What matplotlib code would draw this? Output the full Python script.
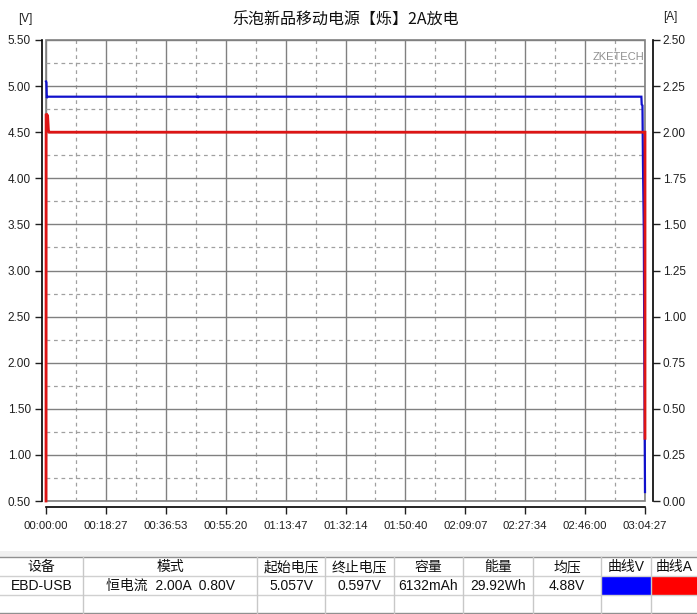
import numpy as np
import matplotlib
matplotlib.use('Agg')
import matplotlib.pyplot as plt
from matplotlib.patches import Rectangle

plt.rcParams['font.family'] = ['Liberation Sans', 'Noto Sans CJK SC', 'DejaVu Sans']

# ---- data (seconds, volts, amps) ----
t_volt = [0, 8, 15, 25, 2800, 2805, 2812, 11000, 11006, 11020, 11030, 11045, 11055, 11062, 11067]
volt = [5.05, 5.04, 4.87, 4.885, 4.885, 4.872, 4.885, 4.885, 4.80, 4.79, 4.14, 3.43, 2.00, 1.17, 0.597]

t_curr = [0, 2, 30, 45, 60, 11060, 11067, 11067]
curr = [0.0, 2.10, 2.09, 2.01, 2.00, 2.00, 2.00, 0.34]

t_end = 11067
x_labels = ['00:00:00', '00:18:27', '00:36:53', '00:55:20', '01:13:47', '01:32:14',
            '01:50:40', '02:09:07', '02:27:34', '02:46:00', '03:04:27']
v_ticks = [5.50, 5.00, 4.50, 4.00, 3.50, 3.00, 2.50, 2.00, 1.50, 1.00, 0.50]
a_ticks = [2.50, 2.25, 2.00, 1.75, 1.50, 1.25, 1.00, 0.75, 0.50, 0.25, 0.00]

title = '乐泡新品移动电源【烁】2A放电'

table_header = ['设备', '模式', '起始电压', '终止电压', '容量', '能量', '均压', '曲线V', '曲线A']
table_row = ['EBD-USB', '恒电流  2.00A  0.80V', '5.057V', '0.597V', '6132mAh', '29.92Wh', '4.88V', '', '']

W, H = 697, 614
fig = plt.figure(figsize=(W / 100, H / 100), dpi=100)

L, R, T, B = 46, 645, 40, 501
ax = fig.add_axes([L / W, 1 - B / H, (R - L) / W, (B - T) / H])
ax2 = ax.twinx()

grid_major = '#808080'
grid_minor = '#a0a0a0'

x_ticks = np.linspace(0, t_end, len(x_labels))
ax.set_xlim(0, t_end)
ax.set_ylim(0.5, 5.5)
ax2.set_ylim(0.0, 2.5)

ax.set_xticks(x_ticks)
ax.set_xticklabels(x_labels)
ax.set_xticks((x_ticks[:-1] + x_ticks[1:]) / 2, minor=True)
ax.set_yticks(v_ticks)
ax.set_yticklabels([f'{v:.2f}' for v in v_ticks])
ax.set_yticks(np.arange(0.75, 5.5, 0.5), minor=True)
ax2.set_yticks(a_ticks)
ax2.set_yticklabels([f'{a:.2f}' for a in a_ticks])

ax.grid(which='major', color=grid_major, ls='-', lw=1)
ax.grid(which='minor', color=grid_minor, ls=(0, (3, 3)), lw=0.9)
ax.set_axisbelow(True)

ax.patch.set_edgecolor(grid_major)
ax.patch.set_linewidth(1.2)

for s in ['top', 'right']:
    ax.spines[s].set_visible(False)
for s in ['top', 'left', 'bottom']:
    ax2.spines[s].set_visible(False)
ax.spines['left'].set_position(('outward', 3))
ax.spines['bottom'].set_position(('outward', 4.3))
ax2.spines['right'].set_position(('outward', 5.8))
for sp in [ax.spines['left'], ax.spines['bottom'], ax2.spines['right']]:
    sp.set_color('black')
    sp.set_linewidth(1.2)

ax.tick_params(which='minor', length=0)
ax.tick_params(axis='y', which='major', length=5, width=1, pad=3, labelsize=8.5, colors='#202020')
ax.tick_params(axis='x', which='major', length=5, width=1, pad=5, labelsize=8.2, colors='#202020')
ax2.tick_params(axis='y', length=5, width=1, pad=2, labelsize=8.5, colors='#202020')

ax.plot(t_volt, volt, color='#1010cc', lw=1.6, solid_joinstyle='miter', clip_on=False)
ax2.plot(t_curr, curr, color='#dd1515', lw=2.0, solid_joinstyle='miter', clip_on=False)

ax.text(0.955, 0.963, 'ZKETECH', transform=ax.transAxes, ha='center', va='center',
        fontsize=8, color='#909090')

fig.text(346 / W, 1 - 20 / H, title, ha='center', va='center', fontsize=11.5,
         family=['Noto Sans CJK SC', 'DejaVu Sans'], color='#101010')
fig.text(25 / W, 1 - 19 / H, '[V]', ha='center', va='center', fontsize=8.5, color='#202020')
fig.text(670 / W, 1 - 17 / H, '[A]', ha='center', va='center', fontsize=8.5, color='#202020')

# ---- summary table drawn in pixel space ----
tab = fig.add_axes([0, 0, 1, 74 / H])
tab.set_xlim(0, W)
tab.set_ylim(H, H - 74)
tab.axis('off')

col_edges = [0, 83, 257, 325, 394, 463, 533, 601, 651, 697]
row_edges = [557, 576, 595, 613]

tab.add_patch(Rectangle((0, 551), W, 6, color='#f0f0f0', lw=0))
tab.add_patch(Rectangle((col_edges[7] + 1, row_edges[1] + 1), col_edges[8] - col_edges[7] - 1,
                        row_edges[2] - row_edges[1] - 1, color='#0000ff', lw=0))
tab.add_patch(Rectangle((col_edges[8] + 1, row_edges[1] + 1), col_edges[9] - col_edges[8] - 1,
                        row_edges[2] - row_edges[1] - 1, color='#ff0000', lw=0))

tab.plot([0, W], [row_edges[0], row_edges[0]], color='#909090', lw=1)
tab.plot([0, W], [row_edges[1], row_edges[1]], color='#d0d0d0', lw=1)
tab.plot([0, W], [row_edges[2], row_edges[2]], color='#d0d0d0', lw=1)
tab.plot([0, W], [row_edges[3], row_edges[3]], color='#909090', lw=1)
for x in col_edges[1:-1]:
    tab.plot([x, x], [row_edges[0], row_edges[3]], color='#c8c8c8', lw=1)

for i in range(len(table_header)):
    cx = (col_edges[i] + col_edges[i + 1]) / 2
    tab.text(cx, (row_edges[0] + row_edges[1]) / 2 + 0.5, table_header[i], ha='center', va='center',
             fontsize=10, color='#101010')
    tab.text(cx, (row_edges[1] + row_edges[2]) / 2 + 0.5, table_row[i], ha='center', va='center',
             fontsize=10, color='#101010')

fig.savefig('out.png', dpi=100)
